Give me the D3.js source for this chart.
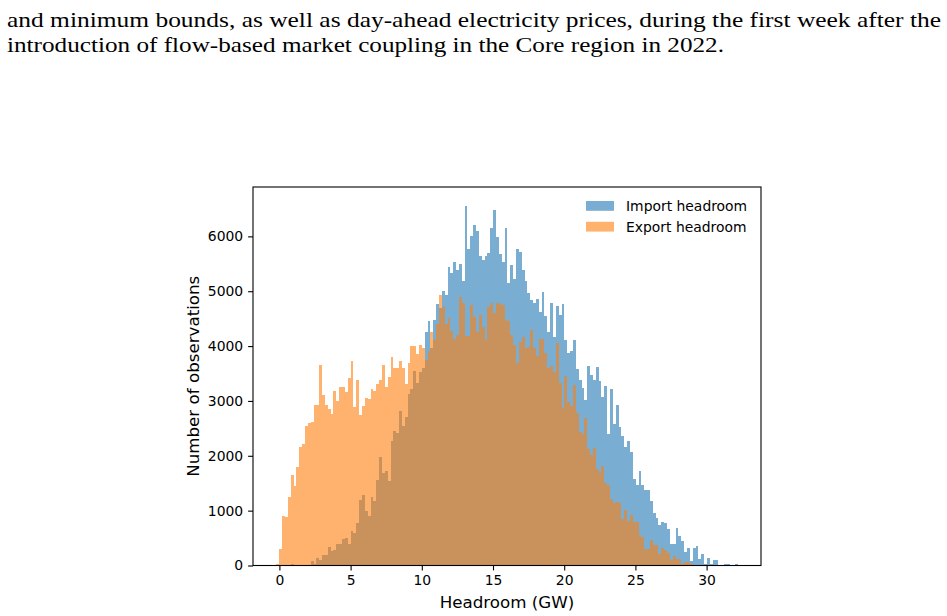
<!DOCTYPE html>
<html>
<head>
<meta charset="utf-8">
<script src="https://cdn.jsdelivr.net/npm/d3@7/dist/d3.min.js"></script>
<style>
  body { margin: 0; background: #fff; }
  svg { display: block; }
</style>
</head>
<body>
<svg id="chart" width="947" height="616"></svg>
<script>
// ---- data (histogram counts per bin; bins start at binStart, width binWidth GW) ----
const binStart = -0.205;
const binWidth = 0.2002;
const seriesNames = ["Import headroom", "Export headroom"];
const importCounts = [0,0,0,0,0,20,0,0,0,0,0,0,78,24,133,97,195,200,337,270,279,389,389,480,498,401,626,584,778,
  1192,1283,991,900,1246,1173,1557,1982,1690,1721,1538,2268,2451,2420,2822,2542,2712,3126,3217,3546,3321,3533,3600,
  4263,4453,3960,4469,4767,4702,5004,4932,5449,5340,5541,5395,5504,5194,6556,5773,6010,6210,6100,5644,5566,5644,5692,
  6160,6483,5980,5680,5540,6160,5150,5480,5225,5773,5712,5395,5194,4970,4840,4780,4855,4627,4987,4555,4263,4785,4165,
  4730,4566,4767,4110,3880,3911,4110,3582,3382,3230,3017,3637,3473,3381,3613,3363,3077,3272,2396,3212,2578,2925,2518,
  2360,2165,2268,2068,1581,1466,1721,1466,1374,1374,1173,960,857,735,790,772,670,389,389,675,535,443,249,328,85,310,
  353,127,206,24,133,24,97,97,0,12,24,24,0,0,24];
const exportCounts = [30,300,900,876,1246,1648,1453,1800,2159,2214,2542,2591,2621,2925,2925,3655,3108,2925,2858,2761,
  3175,3004,3254,3254,3162,3412,3728,2894,3381,2743,2907,3047,3041,3217,3181,3309,3382,3655,3248,3430,3795,3594,3594,
  3722,3594,3309,3686,4002,4002,3856,4020,3970,3747,3911,4263,4116,4394,4933,4713,4394,4503,4270,4136,4210,4890,4780,
  4180,4180,4750,4537,4250,4567,4355,4112,4720,4780,4597,4780,4770,4750,4470,4455,4200,4020,3697,4068,4172,3960,3990,
  4290,3960,3820,4130,4130,3880,3594,3637,3533,4062,3333,2877,3455,2975,2914,3290,2785,2426,2390,2690,2120,2013,2135,
  1752,1690,1812,1497,1466,1204,1131,1155,1131,839,1009,814,912,796,796,553,511,297,297,462,370,370,206,328,290,220,
  97,170,110,110,24,67,67,24];
const xTicks = [0, 5, 10, 15, 20, 25, 30];
const yTicks = [0, 1000, 2000, 3000, 4000, 5000, 6000];
const captionLines = [
  "and minimum bounds, as well as day-ahead electricity prices, during the first week after the",
  "introduction of flow-based market coupling in the Core region in 2022."
];
const colors = ["#1f77b4", "#ff7f0e"];

// ---- layout ----
const svg = d3.select("#chart");
const plot = { left: 253, right: 761, top: 187, bottom: 565.5 };
const x = d3.scaleLinear().domain([-1.854, 33.82]).range([plot.left, plot.right]);
const y = d3.scaleLinear().domain([0, 6900]).range([plot.bottom, plot.top]);

// caption text
const capW = [934, 717];
const capY = [27, 52];
svg.selectAll("text.cap").data(captionLines).join("text")
  .attr("class", "cap")
  .attr("x", 7).attr("y", (d, i) => capY[i])
  .attr("font-family", "Liberation Serif, serif")
  .attr("font-size", 22)
  .attr("textLength", (d, i) => capW[i])
  .attr("lengthAdjust", "spacingAndGlyphs")
  .attr("fill", "#000")
  .text(d => d);

// bars
function drawSeries(counts, color) {
  const bins = counts.map((c, i) => ({ x0: binStart + i * binWidth, x1: binStart + (i + 1) * binWidth, c }))
    .filter(b => b.c > 0);
  svg.append("g").selectAll("rect").data(bins).join("rect")
    .attr("x", d => x(d.x0))
    .attr("width", d => x(d.x1) - x(d.x0))
    .attr("y", d => y(d.c))
    .attr("height", d => y(0) - y(d.c))
    .attr("fill", color)
    .attr("fill-opacity", 0.6)
    .attr("shape-rendering", "crispEdges");
}
drawSeries(importCounts, colors[0]);
drawSeries(exportCounts, colors[1]);

// axes
const fontTick = "DejaVu Sans, sans-serif";
const xAxis = d3.axisBottom(x).tickValues(xTicks).tickSize(4.9).tickPadding(4.9).tickFormat(d3.format("d"));
const yAxis = d3.axisLeft(y).tickValues(yTicks).tickSize(4.9).tickPadding(4.9).tickFormat(d3.format("d"));
const gx = svg.append("g").attr("transform", `translate(0,${plot.bottom})`).call(xAxis);
const gy = svg.append("g").attr("transform", `translate(${plot.left},0)`).call(yAxis);
[gx, gy].forEach(g => {
  g.select(".domain").remove();
  g.selectAll(".tick line").attr("stroke", "#000").attr("stroke-width", 1.1);
  g.selectAll(".tick text").attr("font-family", fontTick).attr("font-size", 13.9).attr("fill", "#000");
});

// frame
svg.append("rect")
  .attr("x", plot.left).attr("y", plot.top)
  .attr("width", plot.right - plot.left).attr("height", plot.bottom - plot.top)
  .attr("fill", "none").attr("stroke", "#000").attr("stroke-width", 1.1);

// axis labels
svg.append("text")
  .attr("x", (plot.left + plot.right) / 2).attr("y", 608)
  .attr("text-anchor", "middle")
  .attr("font-family", fontTick).attr("font-size", 16.7).attr("fill", "#000")
  .text("Headroom (GW)");
svg.append("text")
  .attr("transform", `translate(199,${(plot.top + plot.bottom) / 2}) rotate(-90)`)
  .attr("text-anchor", "middle")
  .attr("font-family", fontTick).attr("font-size", 16.7).attr("fill", "#000")
  .text("Number of observations");

// legend
const leg = svg.append("g");
seriesNames.forEach((name, i) => {
  const yy = 201 + i * 20.8;
  leg.append("rect").attr("x", 586).attr("y", yy).attr("width", 28).attr("height", 9.8)
    .attr("fill", colors[i]).attr("fill-opacity", 0.6);
  leg.append("text").attr("x", 626).attr("y", yy + 10)
    .attr("font-family", fontTick).attr("font-size", 13.9).attr("fill", "#000")
    .text(name);
});
</script>
</body>
</html>
